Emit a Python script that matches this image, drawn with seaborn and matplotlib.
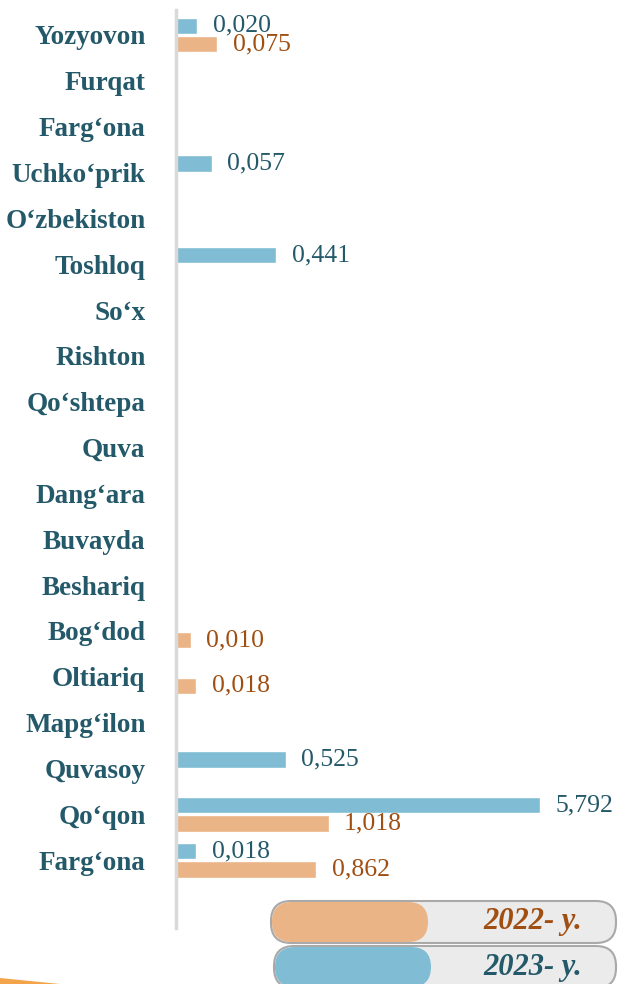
import numpy as np
import pandas as pd
import matplotlib
matplotlib.use("Agg")
import matplotlib.pyplot as plt
from matplotlib.patches import FancyBboxPatch, Polygon
import seaborn as sns

categories = ["Yozyovon", "Furqat", "Farg‘ona", "Uchko‘prik", "O‘zbekiston",
              "Toshloq", "So‘x", "Rishton", "Qo‘shtepa", "Quva", "Dang‘ara",
              "Buvayda", "Beshariq", "Bog‘dod", "Oltiariq", "Mapg‘ilon",
              "Quvasoy", "Qo‘qon", "Farg‘ona"]
nan = np.nan
v2023 = [0.020, nan, nan, 0.057, nan, 0.441, nan, nan, nan, nan, nan,
         nan, nan, nan, nan, nan, 0.525, 5.792, 0.018]
v2022 = [0.075, nan, nan, nan, nan, nan, nan, nan, nan, nan, nan,
         nan, nan, 0.010, 0.018, nan, nan, 1.018, 0.862]
years = ["2023", "2022"]

blue, orange = "#80bcd3", "#ebb486"
teal, brown = "#24596a", "#a04f12"

rows = []
for i in range(len(categories)):
    for yr, vals in zip(years, [v2023, v2022]):
        if not np.isnan(vals[i]):
            rows.append({"pos": i, "year": yr, "value": vals[i]})
df = pd.DataFrame(rows)

sns.set_style("white")
plt.rcParams["font.family"] = ["Liberation Serif", "DejaVu Serif"]

fig = plt.figure(figsize=(6.18, 9.84), dpi=100)
ax = fig.add_axes([176 / 618, 56 / 984, 442 / 618, 918 / 984])

sns.barplot(data=df, x="value", y="pos", hue="year", orient="h",
            order=list(range(len(categories))), hue_order=years,
            palette={"2023": blue, "2022": orange}, saturation=1,
            width=0.8, gap=0.1, legend=False, ax=ax)

ax.set_xscale("function", functions=(np.sqrt, np.square))
ax.set_xlim(0, 8.54)
ax.set_ylim(19.48, -0.545)

ax.set_yticks(range(len(categories)), labels=categories)
ax.tick_params(axis="y", length=0, pad=22)
for t in ax.get_yticklabels():
    t.set_fontweight("bold")
    t.set_fontsize(19.5)
    t.set_color(teal)
ax.set_xticks([])
ax.set_xlabel("")
ax.set_ylabel("")
for s in ["top", "right", "bottom"]:
    ax.spines[s].set_visible(False)
ax.spines["left"].set_color("#d9d9d9")
ax.spines["left"].set_linewidth(2.5)

for cont, col in zip(ax.containers, [teal, brown]):
    labels = [f"{b.get_width():.3f}".replace(".", ",") for b in cont]
    ax.bar_label(cont, labels=labels, padding=11, fontsize=18.5, color=col)

# legend pills
lg = fig.add_axes([0, 0, 1, 1])
lg.set_xlim(0, 618)
lg.set_ylim(984, 0)
lg.axis("off")
lg.patch.set_alpha(0)

pills = [(271, 901, 427, "2022- y.", orange, brown),
         (274, 946, 430, "2023- y.", blue, teal)]
for x0, y0, xf, txt, fc, tc in pills:
    lg.add_patch(FancyBboxPatch((x0, y0), 616 - x0, 42,
                                boxstyle="round,pad=0,rounding_size=20",
                                fc="#ebebeb", ec="#a9a9a9", lw=1.5))
    lg.add_patch(FancyBboxPatch((x0 + 1, y0 + 1), xf - x0, 40,
                                boxstyle="round,pad=0,rounding_size=20",
                                fc=fc, ec="none"))
    lg.text(582, y0 + 21, txt, ha="right", va="center", fontsize=22,
            fontweight="bold", fontstyle="italic", color=tc)

lg.add_patch(Polygon([(0, 978), (0, 984), (60, 984)], closed=True,
                     fc="#f29a36", ec="none", alpha=0.9))

fig.savefig("out.png", dpi=100)
